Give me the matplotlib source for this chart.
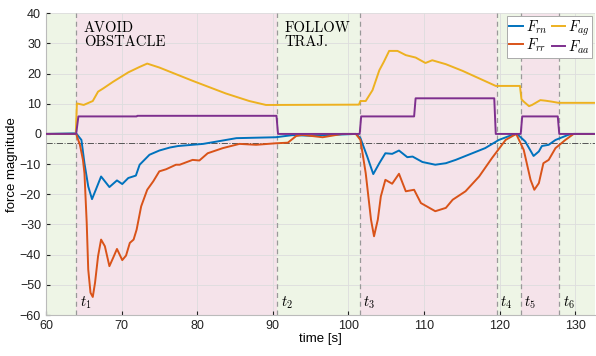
import matplotlib
matplotlib.use('Agg')
import matplotlib.pyplot as plt

plt.rcParams['mathtext.fontset'] = 'cm'
plt.rcParams['font.family'] = ['Liberation Sans', 'DejaVu Sans']

# switching times and phases
t_switch = [64.0, 90.6, 101.5, 119.6, 122.8, 127.85]
t_labels = ['$t_1$', '$t_2$', '$t_3$', '$t_4$', '$t_5$', '$t_6$']
phase_edges = [60, 64.0, 90.6, 101.5, 119.6, 122.8, 127.85, 132.6]
phase_kind = ['follow', 'avoid', 'follow', 'avoid', 'follow', 'avoid', 'follow']

# F_rn
rn_t = [60, 64.0, 64.7, 65.1, 65.6, 66.1, 66.6, 67.3, 68.4, 69.4, 70.1, 70.9, 71.9, 72.4, 73.7,
        75.0, 76.4, 77.5, 80.8, 85.2, 90.4, 92.6, 95.0, 98.0, 101.0, 101.6, 102.5, 103.3, 104.1,
        104.9, 105.8, 106.7, 107.8, 108.5, 109.8, 111.5, 112.9, 114.2, 116.4, 118.1, 119.9,
        121.7, 122.3, 123.4, 124.5, 125.2, 125.6, 126.5, 127.4, 129.1, 129.8, 132.6]
rn_v = [0, 0.2, -2.0, -9.7, -17.4, -21.6, -18.5, -14.1, -17.6, -15.4, -16.6, -14.6, -13.8, -10.2, -6.9,
        -5.5, -4.5, -4.0, -3.3, -1.4, -1.1, -0.4, -0.6, -0.3, 0, -1.4, -7.5, -13.3, -9.7,
        -6.4, -6.6, -5.5, -7.7, -7.5, -9.3, -10.2, -9.7, -8.6, -6.4, -4.7, -2.0,
        -0.3, 0, -2.5, -7.3, -5.8, -4.0, -3.6, -2.0, -0.3, 0, 0]

# F_rr
rr_t = [60, 64.0, 64.5, 64.9, 65.1, 65.4, 65.6, 65.9, 66.2, 66.5, 66.9, 67.3, 67.8, 68.4, 68.9,
        69.4, 70.1, 70.6, 71.1, 71.6, 72.0, 72.6, 73.4, 74.2, 75.0, 75.9, 77.2, 77.7, 79.4,
        80.3, 81.4, 83.4, 85.6, 87.8, 90.4, 92.0, 93.1, 93.9, 96.6, 99.2, 101.0, 101.6, 102.3,
        103.0, 103.4, 103.9, 104.3, 104.9, 105.8, 106.7, 107.6, 108.7, 109.6, 111.5, 112.9,
        113.8, 115.5, 117.3, 119.0, 120.8, 122.2, 123.2, 124.1, 124.6, 125.2, 125.8, 126.5,
        127.4, 128.7, 129.8, 132.6]
rr_v = [0, 0, -3.6, -8.6, -13.0, -29.5, -44.9, -52.6, -54.0, -49.3, -40.5, -35.0, -37.2, -43.8, -41.0,
        -38.1, -41.8, -40.3, -36.1, -35.0, -31.7, -24.0, -18.5, -15.7, -12.4, -11.7, -10.2, -10.2, -8.6,
        -8.8, -6.4, -4.7, -3.3, -3.6, -3.1, -2.9, -0.7, -0.3, -1.1, 0, 0, -2.0, -13.0,
        -28.4, -33.9, -28.4, -20.7, -15.2, -16.5, -13.2, -19.0, -18.5, -22.9, -25.6, -24.5,
        -21.8, -19.0, -14.1, -8.0, -2.0, 0, -5.3, -15.2, -18.5, -16.3, -9.7, -8.6,
        -4.7, -2.0, 0, 0]

# F_ag
ag_t = [60, 63.95, 64.1, 65.0, 66.2, 66.9, 67.6, 68.9, 70.9, 72.4, 73.4, 75.0, 79.4, 83.8, 86.9,
        89.1, 90.4, 101.4, 101.6, 102.3, 103.2, 104.1, 104.7, 105.4, 106.5, 107.6, 108.9,
        110.2, 111.1, 112.9, 115.1, 117.3, 119.5, 122.7, 122.9, 123.2, 123.9, 124.3, 125.4,
        126.1, 126.9, 127.8, 132.6]
ag_v = [0, 0, 10.1, 9.6, 10.9, 14.0, 15.1, 17.3, 20.4, 22.2, 23.3, 22.0, 17.6, 13.4, 10.9,
        9.6, 9.6, 9.7, 10.9, 10.9, 14.5, 21.1, 23.9, 27.5, 27.5, 26.1, 25.3,
        23.5, 24.4, 23.1, 20.9, 18.4, 15.9, 15.9, 11.5, 10.7, 9.2, 9.6, 11.2,
        11.0, 10.7, 10.3, 10.3]

# F_aa
aa_t = [60, 64.0, 64.3, 72.0, 72.1, 90.5, 90.7, 101.5, 101.7, 108.7, 108.9, 119.3, 119.5,
        122.8, 123.0, 127.7, 127.9, 132.6]
aa_v = [0, 0, 5.8, 5.8, 6.0, 6.0, 0, 0, 5.8, 5.8, 11.8, 11.8, 0,
        0, 5.8, 5.8, 0, 0]

fig = plt.figure(figsize=(5.96, 3.56), dpi=100)
ax = fig.add_axes([0.077, 0.115, 0.921, 0.848])

# background shading of the phases
for i in range(len(phase_kind)):
    if phase_kind[i] == 'avoid':
        c = '#f5e3ea'
    else:
        c = '#eef5e6'
    ax.axvspan(phase_edges[i], phase_edges[i + 1], color=c, zorder=0, lw=0)

for t in t_switch:
    ax.axvline(t, color='#999999', ls=(0, (4, 3)), lw=0.9, zorder=1)
for t, lab in zip(t_switch, t_labels):
    ax.text(t + 0.5, -58.5, lab, fontsize=10.5, va='bottom', ha='left')

ax.axhline(-3, color='#555555', ls='-.', lw=0.7, zorder=1)

ax.text(65.0, 37.3, 'AVOID\nOBSTACLE', family='cmr10', fontsize=10.5, va='top', linespacing=1.05)
ax.text(91.6, 37.3, 'FOLLOW\nTRAJ.', family='cmr10', fontsize=10.5, va='top', linespacing=1.05)

ax.plot(rn_t, rn_v, color='#0072bd', lw=1.4, label='$F_{rn}$', zorder=3)
ax.plot(rr_t, rr_v, color='#d95319', lw=1.4, label='$F_{rr}$', zorder=3)
ax.plot(ag_t, ag_v, color='#edb120', lw=1.4, label='$F_{ag}$', zorder=3)
ax.plot(aa_t, aa_v, color='#7e2f8e', lw=1.4, label='$F_{aa}$', zorder=4)

ax.set_xlim(60, 132.6)
ax.set_ylim(-60, 40)
ax.set_xticks(range(60, 131, 10))
ax.set_yticks(range(-60, 41, 10))
ax.set_axisbelow(True)
ax.grid(True, color='#dddddd', lw=0.6)
ax.tick_params(direction='in', length=3, labelsize=9, colors='#222222')
for s in ['top', 'right']:
    ax.spines[s].set_visible(False)
for s in ['left', 'bottom']:
    ax.spines[s].set_color('#bbbbbb')
ax.set_xlabel('time [s]', fontsize=9.5, labelpad=1)
ax.set_ylabel('force magnitude', fontsize=9.5, labelpad=1)

leg = ax.legend(ncol=2, loc='upper right', fontsize=10.5, fancybox=False, framealpha=1,
                edgecolor='#aaaaaa', handlelength=0.9, handletextpad=0.2, columnspacing=0.3,
                borderpad=0.15, labelspacing=0.05, borderaxespad=0.2)
leg.get_frame().set_linewidth(0.7)

plt.savefig('out.png', dpi=100)
